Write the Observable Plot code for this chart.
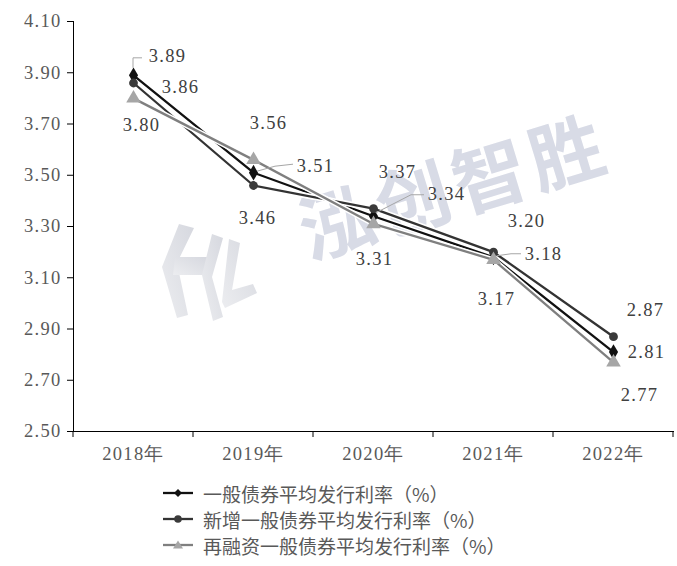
<!DOCTYPE html>
<html>
<head>
<meta charset="utf-8">
<script src="https://cdn.jsdelivr.net/npm/d3@7"></script>
<script src="https://cdn.jsdelivr.net/npm/@observablehq/plot@0.6"></script>
<style>
  body { margin: 0; background: #fff; }
  #chart svg { display: block; }
  #legend { position: relative; width: 677px; height: 91px; font-family: "Noto Sans CJK SC", sans-serif; }
  .row { position: absolute; left: 163px; height: 24px; display: flex; align-items: center; }
  .row span { margin-left: 10px; font-size: 19px; color: #595959; white-space: nowrap; }
</style>
</head>
<body>
<div id="chart"></div>
<div id="legend"></div>
<script>
// ---- data ----
const years = ["2018年", "2019年", "2020年", "2021年", "2022年"];
const seriesNames = ["一般债券平均发行利率（%）", "新增一般债券平均发行利率（%）", "再融资一般债券平均发行利率（%）"];
const generalRate = [3.89, 3.51, 3.34, 3.18, 2.81];
const newRate = [3.86, 3.46, 3.37, 3.20, 2.87];
const refinanceRate = [3.80, 3.56, 3.31, 3.17, 2.77];
const yTicks = [2.50, 2.70, 2.90, 3.10, 3.30, 3.50, 3.70, 3.90, 4.10];
const watermarkText = "泓创智胜";

// ---- styling ----
const seriesValues = [generalRate, newRate, refinanceRate];
const styles = [
  {stroke: "#111111", fill: "#111111", symbol: "diamond", r: 4.8},
  {stroke: "#333333", fill: "#3a3a3a", symbol: "circle", r: 4.4},
  {stroke: "#7f7f7f", fill: "#a6a6a6", symbol: "triangle", r: 5.4}
];
// label offsets [dx, dy] relative to the point
const labelOffsets = [
  [[34, -19], [62, -7], [73, -22], [50, -3], [33, 0]],
  [[47, 4], [4, 33], [24, -36], [33, -31], [32, -27]],
  [[8, 27], [15, -37], [1, 35], [3, 39], [26, 33]]
];
// leader polylines (relative to point) for series 0
const leaders = [
  [[0, -7], [0, -17], [9, -17]],
  [[4, -1], [22, -6], [40, -8]],
  [[3, -3], [38, -21], [51, -21]],
  [[4, -1], [18, -3], [28, -3]],
  null
];
const labelFont = '"Liberation Serif", "DejaVu Serif", serif';

const rows = seriesValues.flatMap((vals, si) =>
  years.map((year, yi) => ({series: seriesNames[si], si, yi, year, value: vals[yi]})));

const svgNS = "http://www.w3.org/2000/svg";
function el(name, attrs) {
  const e = document.createElementNS(svgNS, name);
  for (const k in attrs) e.setAttribute(k, attrs[k]);
  return e;
}

// watermark (text + simple logo)
function watermark(index, scales, values, dims) {
  const g = el("g", {});
  const defs = el("defs", {});
  const grad = el("linearGradient", {id: "wmgrad", x1: "0", y1: "1", x2: "1", y2: "0"});
  grad.appendChild(el("stop", {offset: "0", "stop-color": "#ecedf0"}));
  grad.appendChild(el("stop", {offset: "1", "stop-color": "#d6d8df"}));
  defs.appendChild(grad);
  g.appendChild(defs);
  const cx = dims.marginLeft + (dims.width - dims.marginLeft - dims.marginRight) * 0.633;
  const cy = dims.marginTop + (dims.height - dims.marginTop - dims.marginBottom) * 0.393;
  const t = el("text", {
    x: cx, y: cy, "text-anchor": "middle", "dominant-baseline": "central",
    transform: `rotate(-17 ${cx} ${cy})`,
    fill: "#d8dbe6", "font-size": 74, "font-weight": 700, "letter-spacing": 6,
    "font-family": '"Noto Sans CJK SC", sans-serif'
  });
  t.textContent = watermarkText;
  g.appendChild(t);
  const polys = [
    [[179,224],[194,228],[177,263],[188,315],[177,318],[162,267]],
    [[175,257],[208,257],[207,275],[173,275]],
    [[212,234],[223,238],[212,277],[223,317],[213,321],[202,275]],
    [[229,239],[240,243],[232,290],[253,284],[257,293],[225,308],[222,302]]
  ];
  for (const p of polys) g.appendChild(el("polygon", {points: p.map(q => q.join(",")).join(" "), fill: "url(#wmgrad)"}));
  return g;
}

// x-axis boundary ticks
function xBoundaryTicks(index, scales, values, dims) {
  const g = el("g", {stroke: "#000", "stroke-width": 1});
  const x = scales.x, y0 = dims.height - dims.marginBottom;
  const bw = x.bandwidth ? x.bandwidth() : 0;
  const xs = years.map(d => x(d)).concat([x(years[years.length - 1]) + bw]);
  for (const px of xs) g.appendChild(el("line", {x1: px, x2: px, y1: y0, y2: y0 + 6}));
  return g;
}

// leader lines
function leaderLines(index, scales) {
  const g = el("g", {stroke: "#a6a6a6", "stroke-width": 1, fill: "none"});
  const x = scales.x, y = scales.y;
  const bw = x.bandwidth ? x.bandwidth() : 0;
  leaders.forEach((pts, yi) => {
    if (!pts) return;
    const px = x(years[yi]) + bw / 2, py = y(generalRate[yi]);
    g.appendChild(el("polyline", {points: pts.map(([a, b]) => `${px + a},${py + b}`).join(" ")}));
  });
  return g;
}

const marks = [watermark];
seriesValues.forEach((vals, si) => {
  const data = rows.filter(d => d.si === si);
  marks.push(Plot.line(data, {x: "year", y: "value", stroke: "white", strokeWidth: 5.5}));
  marks.push(Plot.line(data, {x: "year", y: "value", stroke: styles[si].stroke, strokeWidth: 2.3}));
  marks.push(Plot.dot(data, {x: "year", y: "value", symbol: () => styles[si].symbol, r: styles[si].r,
    fill: styles[si].fill, stroke: "none"}));
});
marks.push(leaderLines);
rows.forEach(d => {
  const [dx, dy] = labelOffsets[d.si][d.yi];
  marks.push(Plot.text([d], {x: "year", y: "value", text: v => v.value.toFixed(2), dx, dy,
    fill: "#404040", fontSize: 18.5, fontFamily: labelFont}));
});
marks.push(xBoundaryTicks);

const chart = Plot.plot({
  width: 677,
  height: 475,
  marginTop: 21,
  marginBottom: 44,
  marginLeft: 73,
  marginRight: 4,
  style: {fontSize: "18.5px", fontFamily: labelFont, background: "#fff", color: "#000", letterSpacing: "1.3px"},
  x: {type: "band", domain: years, padding: 0, tickSize: 0, tickPadding: 15, label: null, line: true},
  y: {domain: [2.5, 4.1], ticks: yTicks, tickFormat: d => d.toFixed(2), tickSize: 6, tickPadding: 6, label: null, line: true},
  symbol: {type: "identity"},
  marks
});
chart.querySelectorAll('g[aria-label="x-axis tick label"] text, g[aria-label="y-axis tick label"] text, g[aria-label="x-axis"] text, g[aria-label="y-axis"] text')
  .forEach(t => t.setAttribute("fill", "#595959"));
document.getElementById("chart").appendChild(chart);

// legend
const legend = document.getElementById("legend");
seriesNames.forEach((name, si) => {
  const row = document.createElement("div");
  row.className = "row";
  row.style.top = (6 + 26 * si) + "px";
  const s = styles[si];
  let marker;
  if (s.symbol === "diamond") marker = `<polygon points="15,8 19,12 15,16 11,12" fill="${s.fill}"/>`;
  else if (s.symbol === "circle") marker = `<circle cx="15" cy="12" r="3.8" fill="${s.fill}"/>`;
  else marker = `<polygon points="15,7.5 20,15.5 10,15.5" fill="${s.fill}"/>`;
  row.innerHTML = `<svg width="30" height="24"><line x1="0" x2="30" y1="12" y2="12" stroke="${s.stroke}" stroke-width="2.3"/>${marker}</svg><span>${name}</span>`;
  legend.appendChild(row);
});
</script>
</body>
</html>
